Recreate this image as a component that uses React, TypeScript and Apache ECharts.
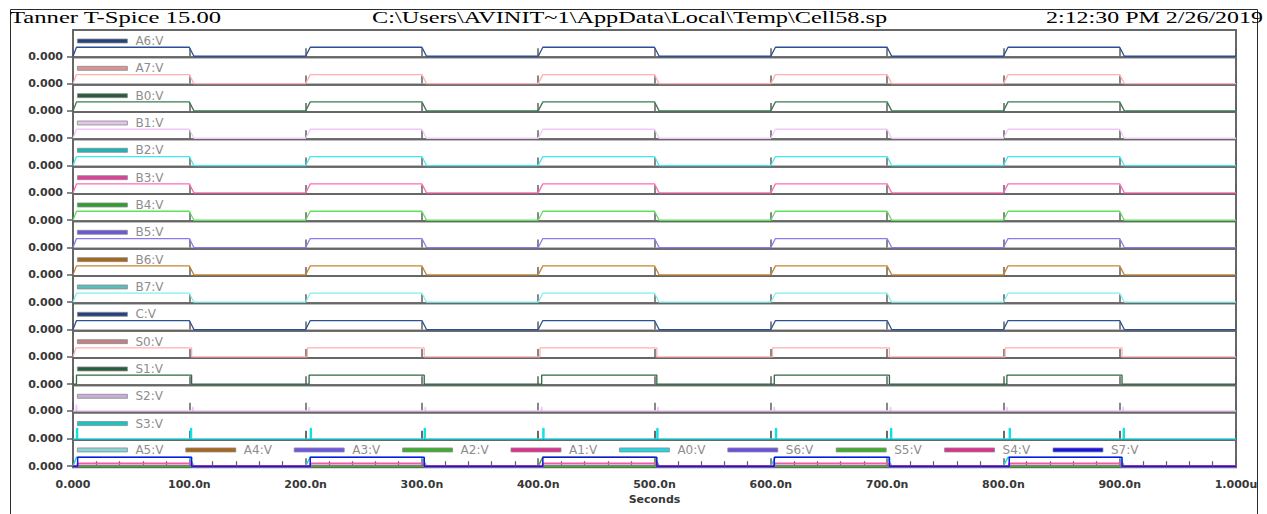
import React, { useEffect, useRef } from "react";
import * as echarts from "echarts";

// ---------- text ----------
const titleLeft = "Tanner T-Spice 15.00";
const titleCenter = "C:\\Users\\AVINIT~1\\AppData\\Local\\Temp\\Cell58.sp";
const titleRight = "2:12:30 PM 2/26/2019";
const timeTickLabels = ["0.000", "100.0n", "200.0n", "300.0n", "400.0n", "500.0n", "600.0n", "700.0n", "800.0n", "900.0n", "1.000u"];
const voltageTickLabel = "0.000";
const xAxisName = "Seconds";

// ---------- signals ----------
const panelSignals = ["A6:V", "A7:V", "B0:V", "B1:V", "B2:V", "B3:V", "B4:V", "B5:V", "B6:V", "B7:V", "C:V", "S0:V", "S1:V", "S2:V", "S3:V"];
const panelLegendColors = ["#23427f", "#d99494", "#2a5e3a", "#e3c7ea", "#1fb3b8", "#e0409a", "#2f9d2f", "#6a58d6", "#a6661c", "#5bbcbc", "#23427f", "#c08282", "#2a5e3a", "#c9acd8", "#19c4c4"];
const panelWaveColors = ["#2a4f96", "#ffb0b0", "#3d7a52", "#f2c6fa", "#3fe8f0", "#ff6cb5", "#5fe05f", "#8a7af0", "#c88630", "#7ff0f0", "#2d5096", "#ffb0b0", "#2f6a42", "#f0c2fa", "#10e0e8"];

const busSignals = ["A5:V", "A4:V", "A3:V", "A2:V", "A1:V", "A0:V", "S6:V", "S5:V", "S4:V", "S7:V"];
const busLegendColors = ["#86d6d6", "#a8661c", "#6a58e8", "#3cb02c", "#e0308f", "#21d6e0", "#6a50e0", "#3cb02c", "#e0308f", "#1414e8"];
const busWaveColors = ["#80e8e8", "#a8661c", "#6a58e8", "#3cb02c", "#ff6cb5", "#21d6e0", "#6a50e0", "#3cb02c", "#f25aa8", "#1414e8"];
const busWaveWidths = [1.5, 1.5, 1.5, 1.5, 1.5, 1.5, 1.5, 1.5, 2.2, 1.5];

// ---------- waveforms (time in ns, level in V-units) ----------
const dataPulseTimes = [0, 3, 100, 104, 200, 204, 300, 304, 400, 404, 500, 504, 600, 604, 700, 704, 800, 804, 900, 904, 1000];
const dataPulseLevels = [0, 1, 1, 0, 0, 1, 1, 0, 0, 1, 1, 0, 0, 1, 1, 0, 0, 1, 1, 0, 0];

const s0Times = [0, 2.5, 102, 102, 201.5, 201.5, 302, 302, 401.5, 401.5, 502, 502, 601.5, 601.5, 702, 702, 801.5, 801.5, 902, 902, 1000];
const s0Levels = [0, 1, 1, 0, 0, 1, 1, 0, 0, 1, 1, 0, 0, 1, 1, 0, 0, 1, 1, 0, 0];

const s1Times = [0, 3, 3, 102, 102, 203, 203, 302, 302, 403, 403, 502, 502, 603, 603, 702, 702, 803, 803, 902, 902, 1000];
const s1Levels = [0, 0, 1, 1, 0, 0, 1, 1, 0, 0, 1, 1, 0, 0, 1, 1, 0, 0, 1, 1, 0, 0];

const s2Times = [0, 2.5, 3, 3.5, 102.5, 103, 103.5, 202.5, 203, 203.5, 302.5, 303, 303.5, 402.5, 403, 403.5, 502.5, 503, 503.5, 602.5, 603, 603.5, 702.5, 703, 703.5, 802.5, 803, 803.5, 902.5, 903, 903.5, 1000];
const s2Levels = [0, 0, 0.7, 0, 0, 0.45, 0, 0, 0.45, 0, 0, 0.45, 0, 0, 0.45, 0, 0, 0.45, 0, 0, 0.45, 0, 0, 0.45, 0, 0, 0.45, 0, 0, 0.45, 0, 0];

const s3Times = [0, 3, 3, 4, 4, 101, 101, 102, 102, 204, 204, 205, 205, 302, 302, 303, 303, 404, 404, 405, 405, 502, 502, 503, 503, 604, 604, 605, 605, 703, 703, 704, 704, 805, 805, 806, 806, 903, 903, 904, 904, 1000];
const s3Levels = [0, 0, 1.15, 1.15, 0, 0, 1.15, 1.15, 0, 0, 1.15, 1.15, 0, 0, 1.15, 1.15, 0, 0, 1.15, 1.15, 0, 0, 1.15, 1.15, 0, 0, 1.15, 1.15, 0, 0, 1.15, 1.15, 0, 0, 1.15, 1.15, 0, 0, 1.15, 1.15, 0, 0];

const s7Times = [0, 4, 4, 102, 102, 204, 204, 302, 302, 404, 404, 502, 502, 603, 603, 702, 702, 805, 805, 902, 902, 1000];
const s7Levels = [0, 0, 1, 1, 0, 0, 1, 1, 0, 0, 1, 1, 0, 0, 1, 1, 0, 0, 1, 1, 0, 0];
const s4Levels = [0, 0, 0.3, 0.3, 0, 0, 0.3, 0.3, 0, 0, 0.3, 0.3, 0, 0, 0.3, 0.3, 0, 0, 0.3, 0.3, 0, 0];

const a0Times = [0, 3, 100, 104, 200, 204, 300, 304, 600, 604, 700, 704, 800, 804, 900, 904, 1000];
const a0Levels = [0, 1, 1, 0, 0, 1, 1, 0, 0, 1, 1, 0, 0, 1, 1, 0, 0];
const a2Times = [0, 400, 404, 500, 504, 1000];
const a2Levels = [0, 0, 1, 1, 0, 0];
const flatTimes = [0, 1000];
const flatLevels = [0, 0];

const zip = (t: number[], v: number[]) => t.map((x, i) => [x, v[i]]);

const panelWaves = [
  ...Array(11).fill(0).map(() => zip(dataPulseTimes, dataPulseLevels)),
  zip(s0Times, s0Levels),
  zip(s1Times, s1Levels),
  zip(s2Times, s2Levels),
  zip(s3Times, s3Levels),
];
const busWaves = [
  zip(flatTimes, flatLevels),
  zip(flatTimes, flatLevels),
  zip(flatTimes, flatLevels),
  zip(a2Times, a2Levels),
  zip(flatTimes, flatLevels),
  zip(a0Times, a0Levels),
  zip(flatTimes, flatLevels),
  zip(flatTimes, flatLevels),
  zip(s7Times, s4Levels),
  zip(s7Times, s7Levels),
];

// ---------- layout ----------
const PLOT_LEFT = 73;
const PLOT_WIDTH = 1163;
const PANEL_TOP0 = 30;
const PANEL_H = 27.33;
const N_PANELS = 16;
const PX_PER_UNIT = 9;
const AXIS_GREY = "#5f5f5f";
const LEGEND_TEXT = "#8d8d8d";
const LABEL_TEXT = "#383838";

function buildOption() {
  const grids: any[] = [];
  const xAxes: any[] = [];
  const yAxes: any[] = [];
  const series: any[] = [];
  const legends: any[] = [];

  for (let i = 0; i < N_PANELS; i++) {
    const top = PANEL_TOP0 + i * PANEL_H;
    const isLast = i === N_PANELS - 1;
    grids.push({
      left: PLOT_LEFT,
      width: PLOT_WIDTH,
      top,
      height: PANEL_H,
      show: true,
      borderColor: "#676767",
      borderWidth: 2,
      backgroundColor: "transparent",
    });
    xAxes.push({
      gridIndex: i,
      type: "value",
      min: 0,
      max: 1000,
      interval: 100,
      axisLine: { show: false },
      splitLine: { show: false },
      axisTick: { show: true, inside: true, length: 8, lineStyle: { color: AXIS_GREY, width: 1.5 } },
      minorTick: { show: isLast, splitNumber: 5, length: 5, lineStyle: { color: AXIS_GREY, width: 1.2 } },
      axisLabel: {
        show: isLast,
        margin: 12,
        formatter: (v: number) => timeTickLabels[Math.round(v / 100)],
        fontFamily: "DejaVu Sans",
        fontWeight: "bold",
        fontSize: 11,
        color: LABEL_TEXT,
      },
      name: isLast ? xAxisName : "",
      nameLocation: "middle",
      nameGap: 27,
      nameTextStyle: { fontFamily: "DejaVu Sans", fontWeight: "bold", fontSize: 11, color: LABEL_TEXT },
    });
    const yMin = panelSignals[i] === "S2:V" ? -0.2 : -0.12;
    yAxes.push({
      gridIndex: i,
      type: "value",
      min: yMin,
      max: yMin + PANEL_H / PX_PER_UNIT,
      axisLine: { show: false },
      splitLine: { show: false },
      axisTick: { show: true, length: 6, customValues: [0], lineStyle: { color: AXIS_GREY, width: 1.5 } },
      axisLabel: {
        customValues: [0],
        formatter: () => voltageTickLabel,
        margin: 10,
        fontFamily: "DejaVu Sans",
        fontWeight: "bold",
        fontSize: 11,
        color: LABEL_TEXT,
      },
    });

    const legendBase = {
      padding: 0,
      itemWidth: 50,
      itemHeight: 4,
      icon: "rect",
      selectedMode: false,
      textStyle: { fontFamily: "DejaVu Sans", fontSize: 12, color: LEGEND_TEXT, lineHeight: 14, padding: [0, 0, 0, 3] },
    };

    if (!isLast) {
      const name = panelSignals[i];
      series.push({
        type: "line",
        name,
        xAxisIndex: i,
        yAxisIndex: i,
        data: panelWaves[i],
        symbol: "none",
        showSymbol: false,
        silent: true,
        lineStyle: { color: panelWaveColors[i], width: 1.3 },
        itemStyle: { color: panelLegendColors[i] },
      });
      legends.push({
        ...legendBase,
        left: 77,
        top: top + 4,
        data: [{ name, itemStyle: { color: panelLegendColors[i], borderColor: "#8a8a8a", borderWidth: 0.8 } }],
      });
    } else {
      busSignals.forEach((name, k) => {
        series.push({
          type: "line",
          name,
          xAxisIndex: i,
          yAxisIndex: i,
          data: busWaves[k],
          symbol: "none",
          showSymbol: false,
          silent: true,
          lineStyle: { color: busWaveColors[k], width: busWaveWidths[k] },
          itemStyle: { color: busLegendColors[k] },
        });
        legends.push({
          ...legendBase,
          left: 77 + k * 108.4,
          top: top + 3,
          data: [{ name, itemStyle: { color: busLegendColors[k], borderColor: "#8a8a8a", borderWidth: 0.8 } }],
        });
      });
    }
  }

  // outside ticks under the time axis
  xAxes.push({
    gridIndex: N_PANELS - 1,
    type: "value",
    min: 0,
    max: 1000,
    interval: 100,
    axisLine: { show: false },
    splitLine: { show: false },
    axisTick: { show: true, inside: false, length: 9, lineStyle: { color: AXIS_GREY, width: 1.5 } },
    axisLabel: { show: false },
  });

  const titleStyle = { fontFamily: "Liberation Serif", fontSize: 17, fill: "#000", verticalAlign: "middle" };
  const graphic = [
    { type: "line", shape: { x1: 10.5, y1: 9.5, x2: 1257.5, y2: 9.5 }, style: { stroke: "#2b2b2b", lineWidth: 1 }, silent: true },
    { type: "line", shape: { x1: 10.5, y1: 9.5, x2: 10.5, y2: 514 }, style: { stroke: "#2b2b2b", lineWidth: 1 }, silent: true },
    { type: "line", shape: { x1: 1257.5, y1: 9.5, x2: 1257.5, y2: 514 }, style: { stroke: "#2b2b2b", lineWidth: 1 }, silent: true },
    { type: "text", x: 10, y: 17, scaleX: 1.45, style: { ...titleStyle, text: titleLeft }, silent: true },
    { type: "text", x: 372, y: 17, scaleX: 1.43, style: { ...titleStyle, text: titleCenter }, silent: true },
    { type: "text", x: 1046, y: 17, scaleX: 1.41, style: { ...titleStyle, text: titleRight }, silent: true },
  ];

  return {
    animation: false,
    backgroundColor: "#ffffff",
    grid: grids,
    xAxis: xAxes,
    yAxis: yAxes,
    series,
    legend: legends,
    graphic,
  };
}

export default function App() {
  const ref = useRef<HTMLDivElement>(null);
  useEffect(() => {
    if (!ref.current) return;
    const chart = echarts.init(ref.current, undefined, { renderer: "svg" });
    chart.setOption(buildOption() as any);
    return () => chart.dispose();
  }, []);
  return (
    <div
      ref={ref}
      style={{ position: "fixed", left: 0, top: 0, width: 1267, height: 514, background: "#fff" }}
    />
  );
}
